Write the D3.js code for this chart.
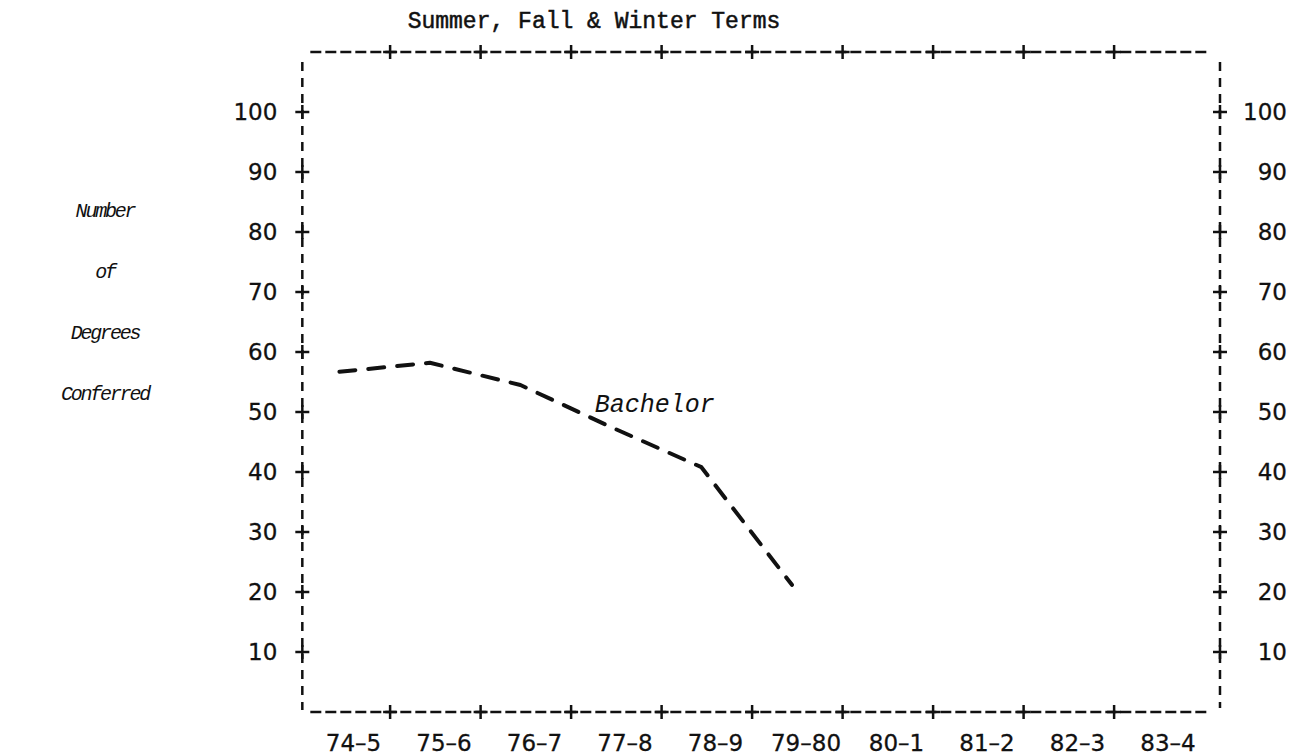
<!DOCTYPE html>
<html>
<head>
<meta charset="utf-8">
<script src="https://cdn.jsdelivr.net/npm/d3@7"></script>
<style>
    body { margin: 0; background: #fff; }
</style>
</head>
<body>
<svg id="grafico" width="1304" height="756"></svg>
<script>
//datos
var periodos = ["74–5", "75–6", "76–7", "77–8", "78–9", "79–80", "80–1", "81–2", "82–3", "83–4"];
var bachelor = [56.7, 58.2, 54.5, 47.5, 40.8, 21.2]; //solo hay valores hasta 79-80
var ticksY = [10, 20, 30, 40, 50, 60, 70, 80, 90, 100];
var tituloY = ["Number", "of", "Degrees", "Conferred"];
var titulo = "Summer, Fall & Winter Terms";
var etiquetaSerie = "Bachelor";

var contenedor = d3.select("#grafico");

//escala X por indice del periodo (centro de cada etiqueta)
var escalaX = d3.scaleLinear().domain([0, periodos.length - 1]).range([353, 1167.5]);
//escala Y, 10 unidades = 60px
var escalaY = d3.scaleLinear().domain([0, 100]).range([712, 112]);

//bordes del marco
var izq = escalaX(-0.56), der = escalaX(9.58), arriba = escalaY(110), abajo = escalaY(0);

var tinta = "#111";

//marco punteado (como de maquina de escribir)
contenedor.append("line")
    .attr("x1", izq + 8).attr("x2", der - 10).attr("y1", arriba).attr("y2", arriba)
    .attr("stroke", tinta).attr("stroke-width", 2.5).attr("stroke-dasharray", "11,4");
contenedor.append("line")
    .attr("x1", izq + 8).attr("x2", der - 10).attr("y1", abajo).attr("y2", abajo)
    .attr("stroke", tinta).attr("stroke-width", 2.5).attr("stroke-dasharray", "11,4");
contenedor.append("line")
    .attr("x1", izq).attr("x2", izq).attr("y1", arriba + 10).attr("y2", abajo - 2)
    .attr("stroke", tinta).attr("stroke-width", 2.5).attr("stroke-dasharray", "9,7");
contenedor.append("line")
    .attr("x1", der).attr("x2", der).attr("y1", arriba + 10).attr("y2", abajo - 4)
    .attr("stroke", tinta).attr("stroke-width", 2.5).attr("stroke-dasharray", "9,7");

//dibuja un signo "+" en x,y
var cruz = function (x, y) {
    contenedor.append("line").attr("x1", x - 7).attr("x2", x + 7).attr("y1", y).attr("y2", y)
        .attr("stroke", tinta).attr("stroke-width", 2.5);
    contenedor.append("line").attr("x1", x).attr("x2", x).attr("y1", y - 7).attr("y2", y + 7)
        .attr("stroke", tinta).attr("stroke-width", 2.5);
}

//cruces en los bordes de arriba y abajo (entre periodos)
d3.range(periodos.length - 1).forEach(function (i) {
    cruz(escalaX(i + 0.41), arriba);
    cruz(escalaX(i + 0.41), abajo);
});

//cruces en los bordes izquierdo y derecho
ticksY.forEach(function (v) {
    cruz(izq, escalaY(v));
    cruz(der, escalaY(v));
});

//eje Y izquierdo (solo etiquetas)
var ejeIzq = contenedor.append("g")
    .attr("transform", "translate(" + izq + ",0)")
    .call(d3.axisLeft(escalaY).tickValues(ticksY).tickSize(0).tickPadding(25));
ejeIzq.select(".domain").remove();

//eje Y derecho
var ejeDer = contenedor.append("g")
    .attr("transform", "translate(" + der + ",0)")
    .call(d3.axisRight(escalaY).tickValues(ticksY).tickSize(0));
ejeDer.select(".domain").remove();
ejeDer.selectAll("text").attr("x", 67).attr("text-anchor", "end");

//eje X con los periodos
var ejeX = contenedor.append("g")
    .attr("transform", "translate(0," + abajo + ")")
    .call(d3.axisBottom(escalaX).tickValues(d3.range(periodos.length)).tickSize(0).tickPadding(23)
        .tickFormat(function (d) { return periodos[d]; }));
ejeX.select(".domain").remove();

[ejeIzq, ejeDer, ejeX].forEach(function (eje) {
    eje.attr("font-family", "'DejaVu Sans', sans-serif").attr("font-size", 23);
    eje.selectAll("text").attr("fill", tinta).attr("stroke", tinta).attr("stroke-width", 0.3);
});

//linea de Bachelor, discontinua
var generarLinea = d3.line()
    .x(function (d, i) { return escalaX(i - 0.15); })
    .y(function (d) { return escalaY(d); });

contenedor.append("path")
    .attr("d", generarLinea(bachelor))
    .attr("fill", "none")
    .attr("stroke", tinta)
    .attr("stroke-width", 4)
    .attr("stroke-linecap", "round")
    .attr("stroke-linejoin", "round")
    .attr("stroke-dasharray", "16,13");

//etiqueta de la serie
contenedor.append("text")
    .attr("x", escalaX(2.67)).attr("y", escalaY(50))
    .attr("font-family", "'Liberation Mono', monospace")
    .attr("font-style", "italic")
    .attr("font-size", 25)
    .attr("fill", tinta)
    .text(etiquetaSerie);

//titulo
contenedor.append("text")
    .attr("x", 594).attr("y", 28)
    .attr("text-anchor", "middle")
    .attr("font-family", "'Liberation Mono', monospace")
    .attr("font-size", 23)
    .attr("fill", tinta)
    .attr("stroke", tinta).attr("stroke-width", 0.5)
    .text(titulo);

//titulo del eje Y en varias lineas
contenedor.selectAll(".tituloY")
    .data(tituloY)
    .enter()
    .append("text")
    .attr("x", 105)
    .attr("y", function (d, i) { return 217 + i * 61; })
    .attr("text-anchor", "middle")
    .attr("font-family", "'Liberation Mono', monospace")
    .attr("font-style", "italic")
    .attr("font-size", 20)
    .attr("letter-spacing", -2.2)
    .attr("fill", tinta)
    .text(function (d) { return d; });
</script>
</body>
</html>
